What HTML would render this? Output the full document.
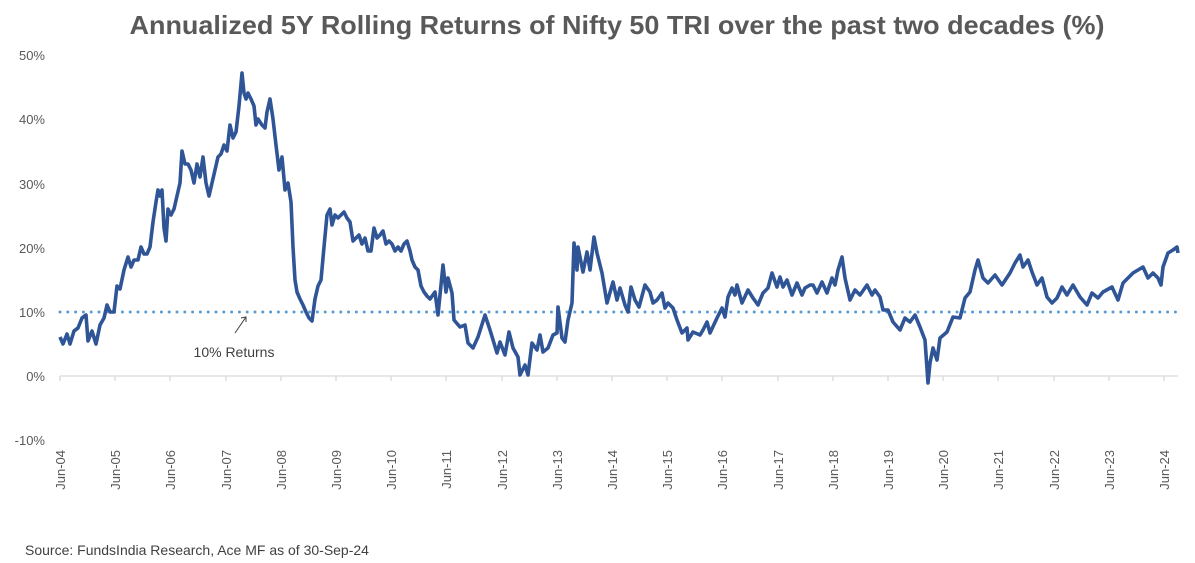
<!DOCTYPE html>
<html><head><meta charset="utf-8"><style>
body{margin:0;background:#fff;}
svg{display:block;font-family:"Liberation Sans",sans-serif;}
</style></head><body>
<svg width="1195" height="563" viewBox="0 0 1195 563" xmlns="http://www.w3.org/2000/svg">
<text x="617" y="34" text-anchor="middle" font-size="26" font-weight="bold" fill="#595959" textLength="975" lengthAdjust="spacingAndGlyphs">Annualized 5Y Rolling Returns of Nifty 50 TRI over the past two decades (%)</text>
<g font-size="13" fill="#595959" text-anchor="end">
<text x="45" y="60">50%</text>
<text x="45" y="124">40%</text>
<text x="45" y="189">30%</text>
<text x="45" y="253">20%</text>
<text x="45" y="317">10%</text>
<text x="45" y="381">0%</text>
<text x="45" y="445">-10%</text>
</g>
<line x1="60" y1="376" x2="1178" y2="376" stroke="#d9d9d9" stroke-width="1.3"/>
<line x1="60" y1="312" x2="1178" y2="312" stroke="#5b9bd5" stroke-width="3" stroke-linecap="round" stroke-dasharray="0 7.8"/>
<polyline fill="none" stroke="#2f5597" stroke-width="3.6" stroke-linejoin="round" points="
60,337 63,344 67,334 70,344 74,331 78,328 82,318 86,315 88,341 92,331 96,344 100,325 104,318 107,305 110,312 114,312 117,286 120,289 124,270 128,257 131,267 134,260 138,260 141,247 144,254 147,254 150,247 153,222 156,202 158,190 160,196 162,190 164,228 166,241 168,209 171,215 174,209 177,196 180,183 182,151 185,164 188,164 191,170 194,183 197,164 200,177 203,157 206,183 209,196 212,183 215,170 218,157 221,154 224,145 227,151 230,125 233,138 236,132 239,106 242,73 244,93 246,99 248,93 251,99 254,106 256,125 258,119 262,125 265,128 267,112 270,99 273,119 276,145 279,170 282,157 285,190 288,183 291,202 293,247 295,280 297,292 300,299 303,305 306,312 309,318 312,321 315,299 318,286 321,280 324,247 327,215 330,209 332,225 335,215 338,218 341,215 344,212 347,218 350,222 353,241 356,238 359,235 362,244 365,238 368,251 371,251 374,228 377,238 380,235 383,231 386,244 389,241 392,244 395,251 398,247 401,251 404,244 407,241 410,251 412,260 415,267 418,270 421,286 424,292 427,296 430,299
435,292 438,315 443,265 446,292 448,278 452,293 454,320 460,327 465,325 468,343 473,348 478,337 485,315 490,330 497,353 500,342 505,355 509,332 513,348 518,357 520,375 525,365 528,375 532,343 537,350 540,335 543,352 548,348 553,335 557,333 558,307 562,338 565,342 568,320 572,303 574,243 577,270 578,247 583,272 587,252 590,270 594,237 597,253 602,273 607,303 613,282 617,300 620,288 625,305 628,312 631,287 635,300 639,307 645,285 650,292 653,303 657,300 662,293 665,308 668,303 673,308 677,320 682,333 687,328 688,340 693,332 700,335 703,330 707,322 710,333 717,318 722,308 725,317 728,297 732,288 735,295 737,285 742,303 748,290 753,298 758,305 763,293 768,288 772,273 777,287 780,277 783,287 787,280 792,295 797,283 802,295 805,288 810,285
813,285 817,293 822,282 827,293 832,278 835,285 838,270 842,257 845,278 850,300 855,290 860,295 867,285 872,295 875,290 880,297 883,310 888,310 893,322 900,330 905,318 910,322 915,315 920,327 925,340 928,383 930,363 933,348 937,360 940,338 947,332 953,317 960,318 965,298 970,292 975,270 978,260 983,278 988,283 995,275 1002,285 1010,273 1015,263 1020,255 1023,267 1028,260 1032,272 1037,285 1042,278 1047,297 1052,303 1057,298 1062,287 1067,295 1073,285 1080,297 1087,305 1092,293 1098,298 1103,292 1112,287 1118,300 1123,283 1128,278 1133,273 1138,270 1143,267 1148,278 1153,273 1158,278 1161,285 1163,267 1168,253 1173,250 1177,247 1178,253"/>
<line x1="235" y1="333" x2="246" y2="317" stroke="#404040" stroke-width="1"/>
<polyline points="241,318 246,317 246,322" fill="none" stroke="#404040" stroke-width="1"/>
<text x="234" y="357" text-anchor="middle" font-size="14" fill="#404040">10% Returns</text>
<text x="25" y="555" font-size="14" fill="#404040">Source: FundsIndia Research, Ace MF as of 30-Sep-24</text>
<g font-size="13" fill="#595959">
<text transform="translate(65,450) rotate(-90)" text-anchor="end">Jun-04</text>
<text transform="translate(120,450) rotate(-90)" text-anchor="end">Jun-05</text>
<text transform="translate(175,450) rotate(-90)" text-anchor="end">Jun-06</text>
<text transform="translate(231,450) rotate(-90)" text-anchor="end">Jun-07</text>
<text transform="translate(286,450) rotate(-90)" text-anchor="end">Jun-08</text>
<text transform="translate(341,450) rotate(-90)" text-anchor="end">Jun-09</text>
<text transform="translate(396,450) rotate(-90)" text-anchor="end">Jun-10</text>
<text transform="translate(451,450) rotate(-90)" text-anchor="end">Jun-11</text>
<text transform="translate(507,450) rotate(-90)" text-anchor="end">Jun-12</text>
<text transform="translate(562,450) rotate(-90)" text-anchor="end">Jun-13</text>
<text transform="translate(617,450) rotate(-90)" text-anchor="end">Jun-14</text>
<text transform="translate(672,450) rotate(-90)" text-anchor="end">Jun-15</text>
<text transform="translate(727,450) rotate(-90)" text-anchor="end">Jun-16</text>
<text transform="translate(783,450) rotate(-90)" text-anchor="end">Jun-17</text>
<text transform="translate(838,450) rotate(-90)" text-anchor="end">Jun-18</text>
<text transform="translate(893,450) rotate(-90)" text-anchor="end">Jun-19</text>
<text transform="translate(948,450) rotate(-90)" text-anchor="end">Jun-20</text>
<text transform="translate(1003,450) rotate(-90)" text-anchor="end">Jun-21</text>
<text transform="translate(1059,450) rotate(-90)" text-anchor="end">Jun-22</text>
<text transform="translate(1114,450) rotate(-90)" text-anchor="end">Jun-23</text>
<text transform="translate(1169,450) rotate(-90)" text-anchor="end">Jun-24</text>
</g>
<g stroke="#d9d9d9" stroke-width="1.3">
<line x1="60" y1="376" x2="60" y2="381"/><line x1="115" y1="376" x2="115" y2="381"/><line x1="170" y1="376" x2="170" y2="381"/><line x1="226" y1="376" x2="226" y2="381"/><line x1="281" y1="376" x2="281" y2="381"/><line x1="336" y1="376" x2="336" y2="381"/><line x1="391" y1="376" x2="391" y2="381"/><line x1="446" y1="376" x2="446" y2="381"/><line x1="502" y1="376" x2="502" y2="381"/><line x1="557" y1="376" x2="557" y2="381"/><line x1="612" y1="376" x2="612" y2="381"/><line x1="667" y1="376" x2="667" y2="381"/><line x1="722" y1="376" x2="722" y2="381"/><line x1="778" y1="376" x2="778" y2="381"/><line x1="833" y1="376" x2="833" y2="381"/><line x1="888" y1="376" x2="888" y2="381"/><line x1="943" y1="376" x2="943" y2="381"/><line x1="998" y1="376" x2="998" y2="381"/><line x1="1054" y1="376" x2="1054" y2="381"/><line x1="1109" y1="376" x2="1109" y2="381"/><line x1="1164" y1="376" x2="1164" y2="381"/>
</g>
</svg>
</body></html>
